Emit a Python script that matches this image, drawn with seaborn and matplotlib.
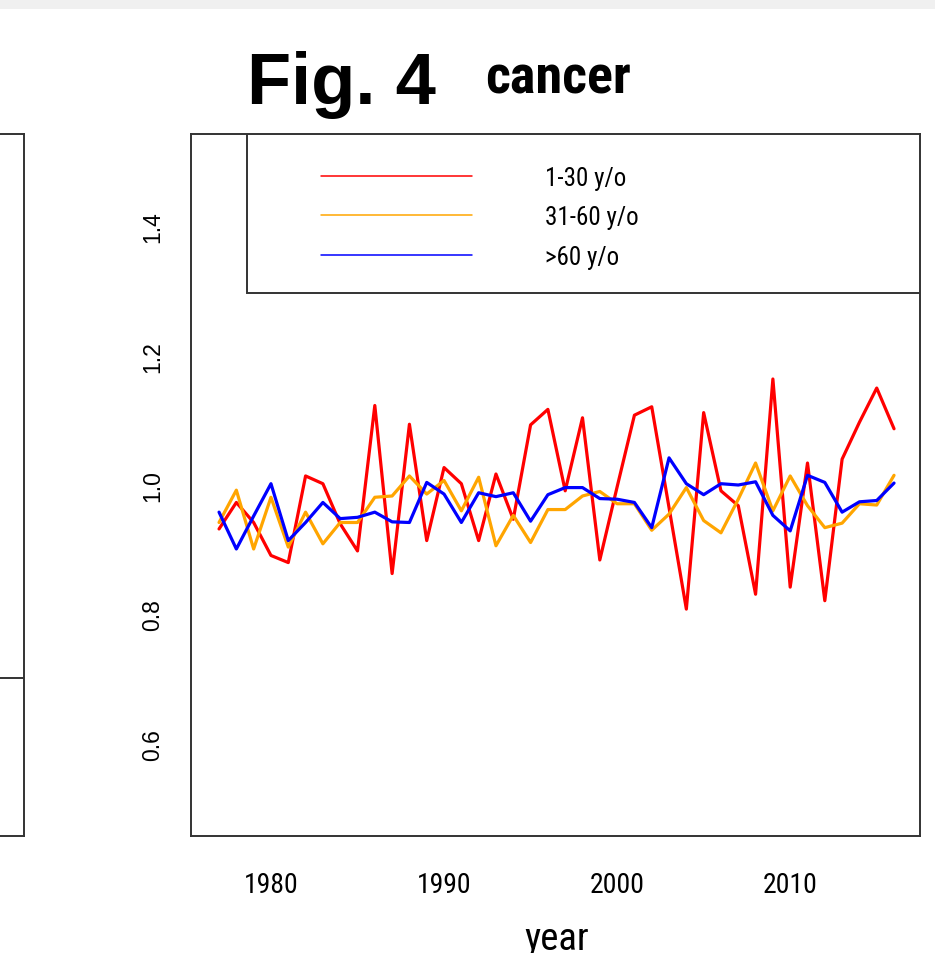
import matplotlib
matplotlib.use('Agg')
import matplotlib.pyplot as plt
from matplotlib.patches import Rectangle
from matplotlib.lines import Line2D
import pandas as pd
import seaborn as sns

# values
years = list(range(1977, 2017))
age_1_30 = [0.932, 0.973, 0.942, 0.891, 0.880, 1.014, 1.002, 0.940, 0.898, 1.123,
            0.863, 1.094, 0.914, 1.027, 1.002, 0.914, 1.017, 0.947, 1.093, 1.117,
            0.991, 1.104, 0.884, 0.997, 1.108, 1.121, 0.965, 0.808, 1.112, 0.991,
            0.968, 0.831, 1.164, 0.842, 1.034, 0.821, 1.040, 1.097, 1.150, 1.087]
age_31_60 = [0.942, 0.992, 0.901, 0.981, 0.904, 0.958, 0.909, 0.942, 0.942, 0.981,
             0.983, 1.014, 0.986, 1.007, 0.960, 1.012, 0.906, 0.953, 0.911, 0.962,
             0.962, 0.983, 0.990, 0.971, 0.971, 0.930, 0.955, 0.996, 0.945, 0.926,
             0.978, 1.034, 0.960, 1.014, 0.968, 0.934, 0.941, 0.971, 0.969, 1.015]
age_60_plus = [0.958, 0.901, 0.952, 1.002, 0.914, 0.942, 0.973, 0.948, 0.950, 0.958,
               0.943, 0.942, 1.004, 0.986, 0.942, 0.988, 0.982, 0.988, 0.944, 0.985,
               0.996, 0.996, 0.979, 0.978, 0.973, 0.934, 1.042, 1.002, 0.985, 1.002,
               1.000, 1.005, 0.953, 0.929, 1.015, 1.004, 0.958, 0.974, 0.976, 1.003]
groups = ['1-30 y/o', '31-60 y/o', '>60 y/o']
colors = ['red', 'orange', 'blue']
x_ticks = [1980, 1990, 2000, 2010]
y_ticks = [0.6, 0.8, 1.0, 1.2, 1.4]

df = pd.DataFrame({
    'year': years * 3,
    'ratio': age_1_30 + age_31_60 + age_60_plus,
    'group': [g for g in groups for _ in years],
})

sns.set_style('white')
plt.rcParams['font.family'] = ['Liberation Sans', 'DejaVu Sans']
plt.rcParams['text.color'] = 'black'
plt.rcParams['xtick.color'] = 'black'
plt.rcParams['ytick.color'] = 'black'
narrow = ['Roboto Condensed', 'Liberation Sans']
axcol = '#333333'

W, H = 935, 954
fig = plt.figure(figsize=(W / 100, H / 100), dpi=100)

# light grey strip along the top
fig.patches.append(Rectangle((0, 1 - 10 / H), 1, 10 / H, transform=fig.transFigure,
                             facecolor='#f0f0f0', edgecolor='none', zorder=0))

l, r, t, b = 191, 920, 135, 837
ax = fig.add_axes([l / W, 1 - b / H, (r - l) / W, (b - t) / H])

sns.lineplot(data=df, x='year', y='ratio', hue='group', palette=colors,
             linewidth=2.3, legend=False, ax=ax)

ax.set_xlim(1975.38, 2017.5)
ax.set_ylim(0.457, 1.543)
ax.set_xticks(x_ticks)
ax.set_xticklabels([str(v) for v in x_ticks], fontfamily=narrow, fontsize=20)
ax.set_yticks(y_ticks)
ax.set_yticklabels([f'{v:.1f}' for v in y_ticks], rotation=90, va='center', fontsize=16.5)
ax.tick_params(axis='x', length=11, width=1.2, color=axcol, pad=14)
ax.tick_params(axis='y', length=10, width=1.2, color=axcol, pad=9)
ax.set_xlabel('')
ax.set_ylabel('')
for s in ax.spines.values():
    s.set_visible(True)
    s.set_color(axcol)
    s.set_linewidth(1.4)

# legend box in the R style
lx0 = (247 - l) / (r - l)
ly0 = (b - 294) / (b - t)
ax.add_patch(Rectangle((lx0, ly0), 1 - lx0, 1 - ly0, transform=ax.transAxes,
                       facecolor='white', edgecolor=axcol, linewidth=1.4, zorder=5))
hx0, hx1 = (321 - l) / (r - l), (472 - l) / (r - l)
tx = (545 - l) / (r - l)
for g, c, py in zip(groups, colors, [176.5, 215.5, 255.5]):
    fy = (b - py) / (b - t)
    ax.add_line(Line2D([hx0, hx1], [fy, fy], transform=ax.transAxes, color=c,
                       linewidth=1.1, zorder=6))
    ax.text(tx, fy - 0.003, g, transform=ax.transAxes, va='center', ha='left',
            fontfamily=narrow, fontsize=18, zorder=6)

# edge of the neighbouring panel on the left
ax0 = fig.add_axes([-0.1, 1 - b / H, 0.1 + 24 / W, (b - t) / H])
ax0.set_xticks([])
ax0.set_yticks([])
for s in ax0.spines.values():
    s.set_color(axcol)
    s.set_linewidth(1.4)
ax0.axhline((b - 679) / (b - t), color=axcol, linewidth=1.4)

fig.text(341 / W, 1 - 104 / H, 'Fig. 4', ha='center', va='baseline',
         fontsize=52, fontweight='bold')
fig.text(485 / W, 1 - 93.5 / H, 'cancer', ha='left', va='baseline',
         fontfamily=narrow, fontsize=39, fontweight='bold')
fig.text(557 / W, 1 - 950 / H, 'year', ha='center', va='baseline',
         fontfamily=narrow, fontsize=28)

fig.savefig('out.png', dpi=100)
